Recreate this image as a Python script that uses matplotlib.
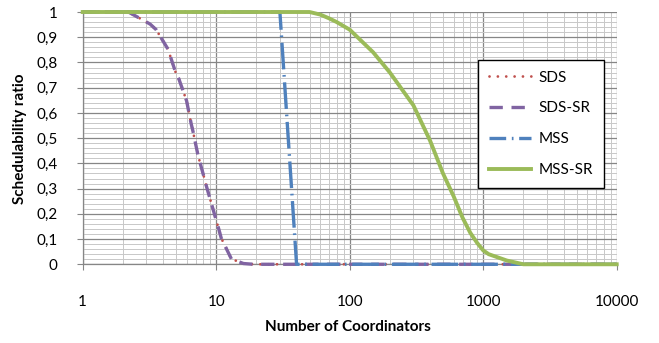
import matplotlib
matplotlib.use('Agg')
import matplotlib.pyplot as plt
from matplotlib.ticker import FixedLocator, LogLocator, NullFormatter, FuncFormatter

plt.rcParams['font.family'] = ['Lato', 'DejaVu Sans']

# SDS / SDS-SR (same curve)
sds_x = [1, 2.2, 3.2, 3.55, 4.35, 4.95, 5.25, 6.0, 6.5, 6.7, 7.3, 8.1, 8.4, 9.4, 10.5, 10.9, 13, 16, 19, 30, 100, 1000, 10000]
sds_y = [1.0, 1.0, 0.952, 0.93, 0.853, 0.763, 0.735, 0.648, 0.556, 0.527, 0.433, 0.346, 0.314, 0.224, 0.136, 0.104, 0.021, 0.003, 0.0, 0.0, 0.0, 0.0, 0.0]

# MSS
mss_x = [1, 10, 30, 40, 100, 1000, 10000]
mss_y = [1.0, 1.0, 1.0, 0.0, 0.0, 0.0, 0.0]

# MSS-SR
msssr_x = [1, 10, 50, 60, 70, 80, 100, 150, 200, 300, 400, 500, 600, 700, 800, 900, 1000, 1100, 1500, 2000, 10000]
msssr_y = [1.0, 1.0, 1.0, 0.99, 0.975, 0.96, 0.93, 0.84, 0.76, 0.63, 0.49, 0.36, 0.27, 0.185, 0.125, 0.085, 0.055, 0.04, 0.015, 0.0, 0.0]

fig = plt.figure(figsize=(6.59, 3.43), dpi=100)
ax = fig.add_axes([0.1255, 0.2295, 0.8103, 0.7355])

ax.plot(sds_x, sds_y, color='#C0504D', lw=2.0, linestyle=(0, (0.01, 3.0)),
        dash_capstyle='round', label='SDS', zorder=3, clip_on=False)
ax.plot(sds_x, sds_y, color='#8064A2', lw=2.4, linestyle=(0, (4, 2.6)),
        dash_capstyle='butt', label='SDS-SR', zorder=4, clip_on=False)
ax.plot(mss_x, mss_y, color='#4F81BD', lw=2.4, linestyle=(3, (8, 1.7, 0.5, 1.7)),
        dash_capstyle='butt', label='MSS', zorder=5, clip_on=False)
ax.plot(msssr_x, msssr_y, color='#9BBB59', lw=2.8, linestyle='-',
        label='MSS-SR', zorder=6, clip_on=False)

ax.set_xscale('log')
ax.set_xlim(1, 10000)
ax.set_ylim(0, 1)

ax.xaxis.set_major_locator(FixedLocator([1, 10, 100, 1000, 10000]))
ax.xaxis.set_minor_locator(LogLocator(base=10, subs=range(2, 10)))
ax.xaxis.set_major_formatter(FuncFormatter(lambda v, p: f'{v:.0f}'))
ax.xaxis.set_minor_formatter(NullFormatter())
ax.yaxis.set_major_locator(FixedLocator([i / 10 for i in range(11)]))
ax.yaxis.set_minor_locator(FixedLocator([i / 50 for i in range(51)]))
ax.yaxis.set_major_formatter(FuncFormatter(lambda v, p: f'{v:g}'.replace('.', ',')))

ax.grid(which='major', color='#868686', lw=0.9)
ax.grid(which='minor', color='#c8c8c8', lw=0.7)
ax.set_axisbelow(True)

for s in ['top', 'right']:
    ax.spines[s].set_visible(False)
for s in ['left', 'bottom']:
    ax.spines[s].set_color('#868686')
    ax.spines[s].set_linewidth(0.9)

ax.tick_params(axis='both', which='major', length=4, color='#868686', labelsize=11)
ax.tick_params(axis='both', which='minor', length=0)
ax.tick_params(axis='x', which='major', pad=18)
ax.tick_params(axis='y', which='major', pad=14)

ax.set_xlabel('Number of Coordinators', fontsize=11, fontweight='bold')
ax.xaxis.set_label_coords(0.497, -0.22)
ax.set_ylabel('Schedulability ratio', fontsize=11, fontweight='bold')
ax.yaxis.set_label_coords(-0.105, 0.497)

leg = ax.legend(loc='upper left', bbox_to_anchor=(0.74, 0.81), borderaxespad=0,
                fontsize=11, frameon=True, fancybox=False, edgecolor='black',
                framealpha=1, handlelength=2.8, labelspacing=1.1, borderpad=0.7,
                handletextpad=0.5)
leg.get_frame().set_linewidth(1.0)
leg.set_zorder(10)

fig.savefig('out.png', dpi=100)
